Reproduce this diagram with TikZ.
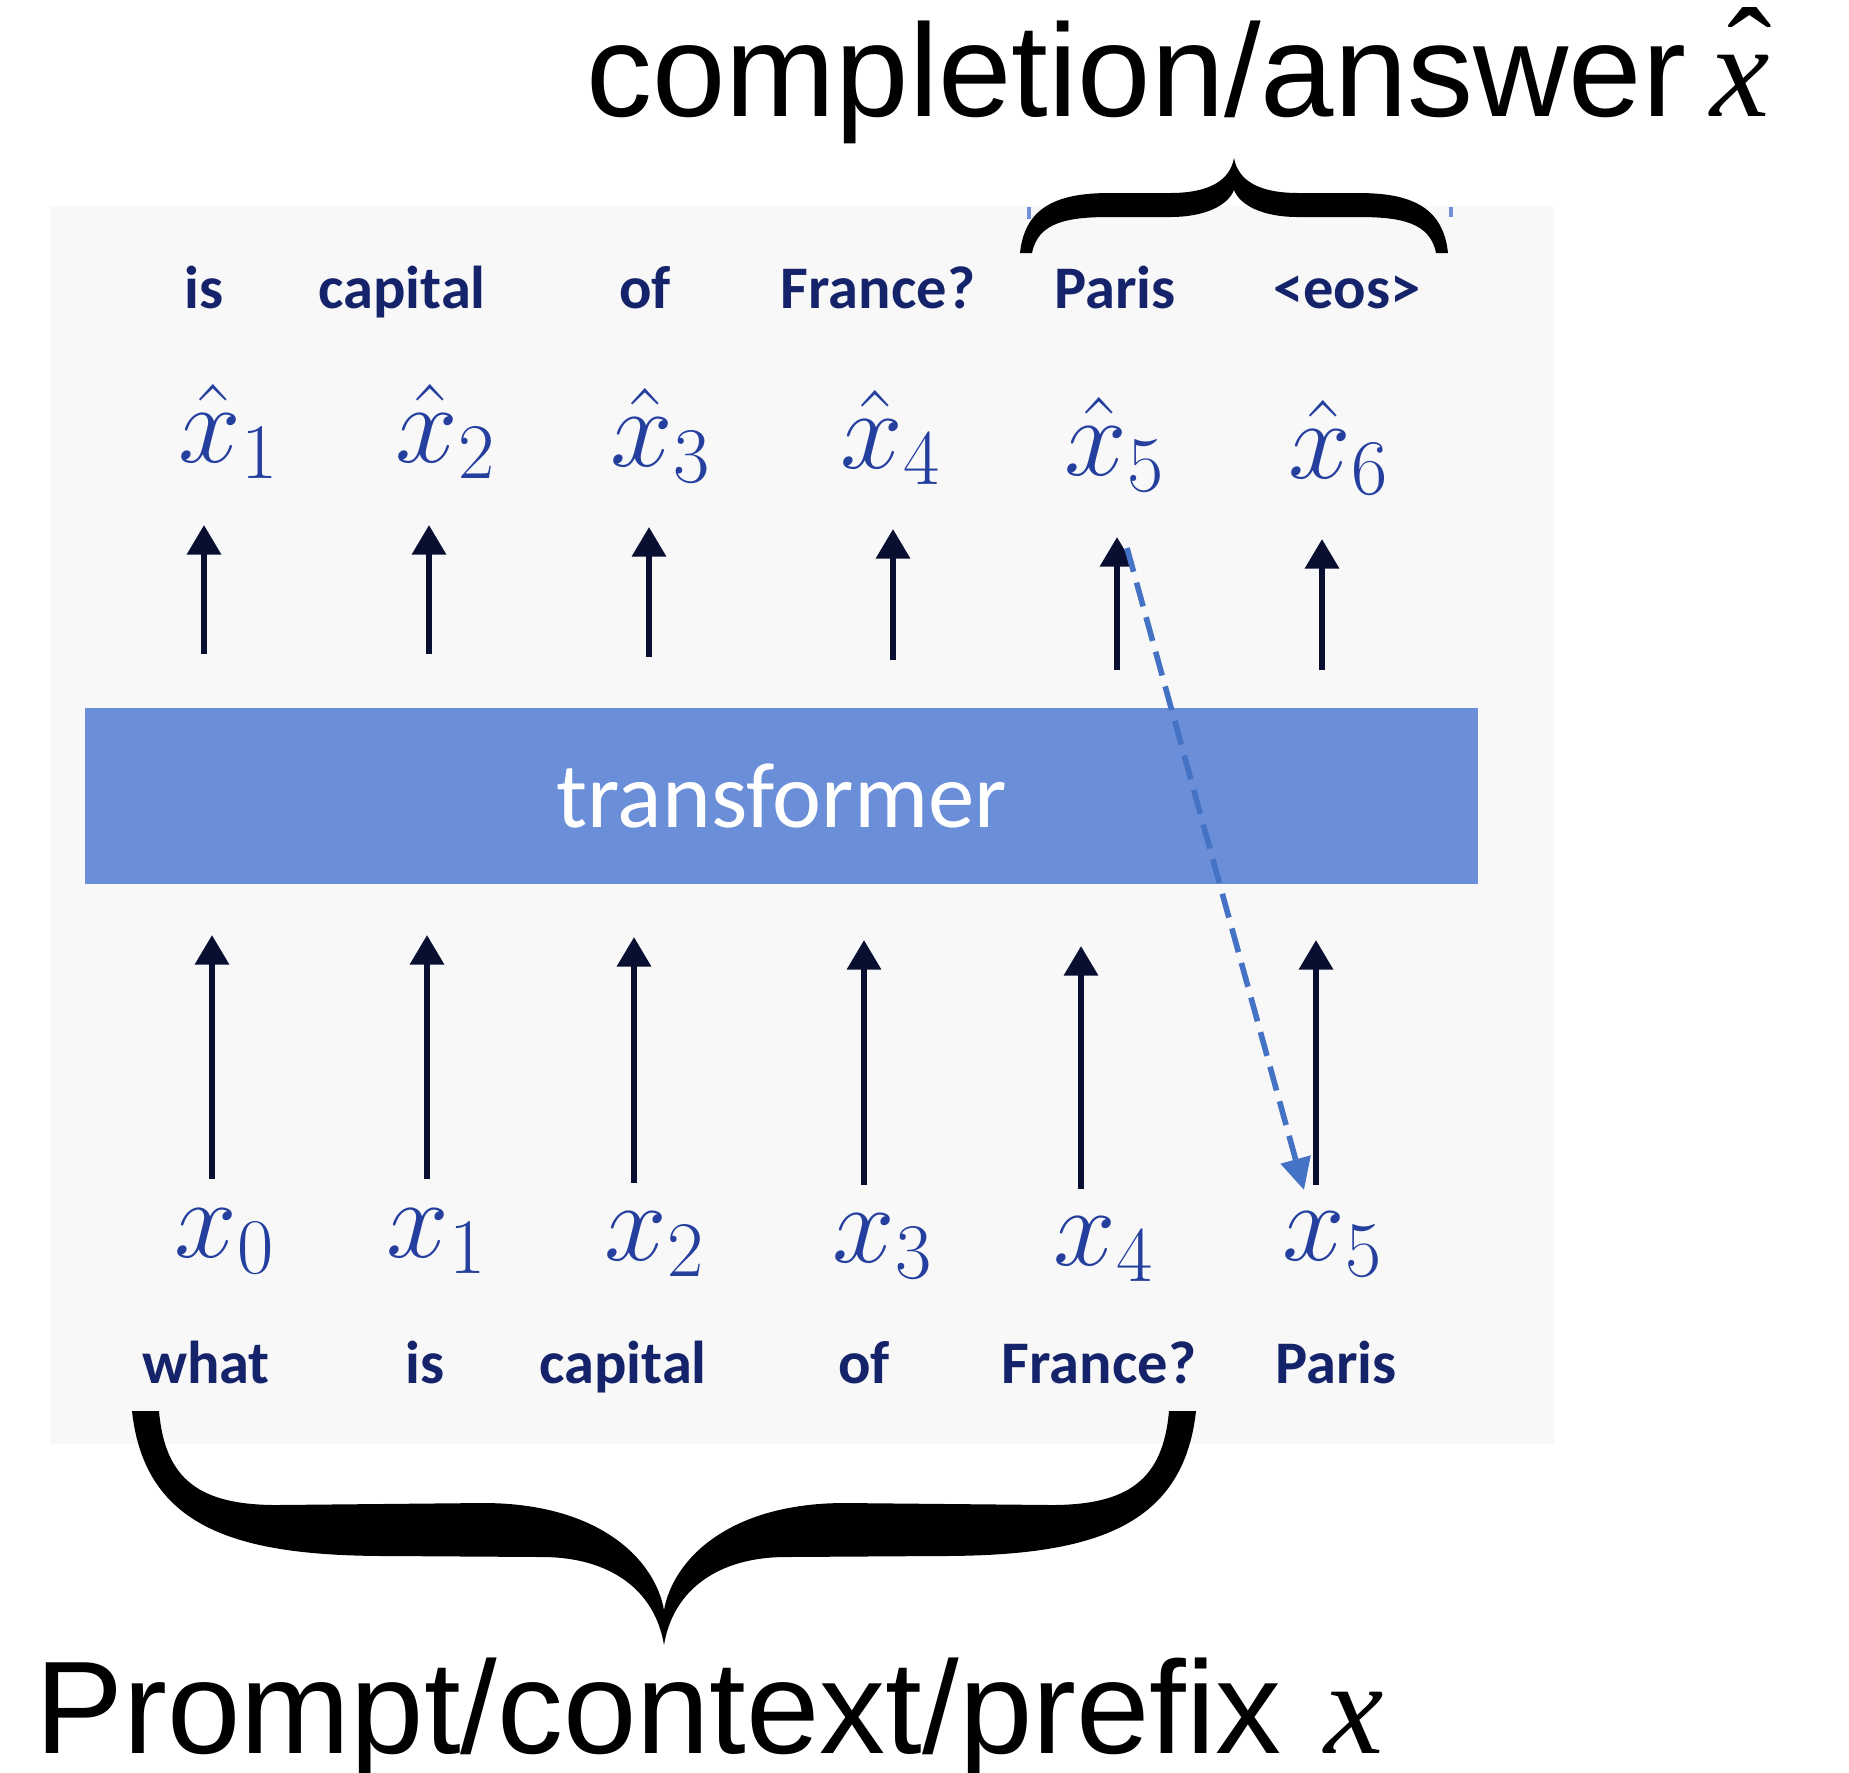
\RequirePackage{fix-cm}
\documentclass[tikz,border=0pt]{standalone}
\usepackage[no-math]{fontspec}
\setmainfont{Liberation Sans}
\newfontfamily\calibfont{Carlito}
\newfontfamily\seriffont{Liberation Serif}
\usetikzlibrary{arrows.meta}
\definecolor{panelgray}{HTML}{F8F8F8}
\definecolor{barblue}{HTML}{6B8ED8}
\definecolor{wordnavy}{HTML}{15236A}
\definecolor{mathblue}{HTML}{243F9E}
\definecolor{arrownavy}{HTML}{080F30}
\definecolor{dashblue}{HTML}{4472C4}
\definecolor{tickblue}{HTML}{7090D8}
\tikzset{
  word/.style={font=\calibfont\bfseries\fontsize{17.2}{20}\selectfont, text=wordnavy, inner sep=0pt, anchor=base},
  mlab/.style={font=\fontsize{32}{36}\selectfont, text=mathblue, inner sep=0pt, anchor=base},
  upar/.style={draw=arrownavy, line width=1.75pt, -{Triangle[width=9.4pt,length=8.4pt]}},
  feedback/.style={draw=dashblue, line width=1.6pt, dash pattern=on 7pt off 3.2pt, -{Triangle[width=8.5pt,length=9pt]}},
  bigtext/.style={font=\fontsize{37.5}{44}\selectfont, text=black, inner sep=0pt, anchor=base west},
  bigserif/.style={font=\seriffont\fontsize{38}{44}\selectfont, text=black, inner sep=0pt},
  bar/.style={fill=barblue, minimum width=13.93cm, minimum height=1.76cm, inner sep=0pt, text=white, font=\calibfont\fontsize{26.4}{30}\selectfont},
  bracefill/.style={fill=black},
}
\begin{document}
\begin{tikzpicture}[x=0.01cm,y=-0.01cm]
\useasboundingbox (0,0) rectangle (1849,1772);
\fill[white] (0,0) rectangle (1849,1772);
% light panel
\fill[panelgray] (50,206) rectangle (1554,1444);
% transformer bar
\node[bar] (tf) at (781.5,796) {transformer};

% top words
\node[word] (w1) at (204,308) {is};
\node[word] (w2) at (402,308) {capital};
\node[word] (w3) at (645,308) {of};
\node[word] (w4) at (878,308) {France?};
\node[word] (w5) at (1115,308) {Paris};
\node[word] (w6) at (1347,308) {<eos>};

% predicted tokens
\node[mlab] (h1) at (229,462) {$\hat{x}_1$};
\node[mlab] (h2) at (446,462) {$\hat{x}_2$};
\node[mlab] (h3) at (661,466) {$\hat{x}_3$};
\node[mlab] (h4) at (891,468) {$\hat{x}_4$};
\node[mlab] (h5) at (1115,475) {$\hat{x}_5$};
\node[mlab] (h6) at (1339,478) {$\hat{x}_6$};

% input tokens
\node[mlab] (x0) at (225,1257) {$x_0$};
\node[mlab] (x1) at (437,1257) {$x_1$};
\node[mlab] (x2) at (655,1260) {$x_2$};
\node[mlab] (x3) at (883,1262) {$x_3$};
\node[mlab] (x4) at (1104,1265) {$x_4$};
\node[mlab] (x5) at (1333,1260) {$x_5$};

% bottom words
\node[word] (b0) at (206,1383) {what};
\node[word] (b1) at (425,1383) {is};
\node[word] (b2) at (623,1383) {capital};
\node[word] (b3) at (864,1383) {of};
\node[word] (b4) at (1099,1383) {France?};
\node[word] (b5) at (1336,1383) {Paris};

% upper arrows (transformer -> predictions)
\foreach \n/\x/\t/\b in {1/204/525/654, 2/429/525/654, 3/649/527/657, 4/893/529/660, 5/1117/537/670, 6/1322/539/670}{
  \coordinate (ut\n) at (\x,\t);
  \coordinate (ub\n) at (\x,\b);
  \draw[upar] (ub\n) -- (ut\n);
}
% lower arrows (inputs -> transformer)
\foreach \n/\x/\t/\b in {0/212/935/1179, 1/427/935/1179, 2/634/937/1183, 3/864/940/1185, 4/1081/946/1189, 5/1316/940/1185}{
  \coordinate (lt\n) at (\x,\t);
  \coordinate (lb\n) at (\x,\b);
  \draw[upar] (lb\n) -- (lt\n);
}
% feedback dashed arrow
\coordinate (fbs) at (1127,548);
\coordinate (fbe) at (1304,1190);
\draw[feedback] (fbs) -- (fbe);

% small blue ticks at top of panel
\draw[tickblue, line width=1pt] (1029,207) -- (1029,219);
\draw[tickblue, line width=1pt] (1451,207) -- (1451,217);

% top brace (pointing up)
\fill[bracefill] (1020,253) .. controls (1025,205) and (1060,193) .. (1110,193) -- (1170,193)
  .. controls (1210,193) and (1230,180) .. (1234,158)
  .. controls (1238,180) and (1258,193) .. (1298,193) -- (1358,193)
  .. controls (1408,193) and (1443,205) .. (1448,253) -- (1436,253)
  .. controls (1430,222) and (1400,217) .. (1358,217) -- (1298,217)
  .. controls (1262,217) and (1240,205) .. (1234,190)
  .. controls (1228,205) and (1206,217) .. (1170,217) -- (1110,217)
  .. controls (1068,217) and (1038,222) .. (1032,253) -- cycle;

% bottom brace (pointing down)
\fill[bracefill] (132,1411) .. controls (145,1530) and (240,1556) .. (389,1556) -- (542,1557)
  .. controls (610,1557) and (655,1590) .. (664,1645)
  .. controls (673,1590) and (718,1557) .. (786,1557) -- (939,1556)
  .. controls (1088,1556) and (1183,1530) .. (1196,1411) -- (1169,1411)
  .. controls (1163,1480) and (1128,1505) .. (1051,1505) -- (845,1503)
  .. controls (728,1503) and (673,1560) .. (664,1610)
  .. controls (655,1560) and (600,1503) .. (483,1503) -- (277,1505)
  .. controls (200,1505) and (165,1480) .. (159,1411) -- cycle;

% captions
\node[bigtext] (comp) at (586,116) {completion/answer};
\node[bigserif, anchor=base west] (xh) at (1710,116) {\itshape x};
\node[bigserif, anchor=base] (hat) at (1750,100) {\char"02C6};
\node[bigtext] (prompt) at (35,1753) {Prompt/context/prefix};
\node[bigserif, anchor=base west] (px) at (1324,1753) {\itshape x};
\end{tikzpicture}
\end{document}
